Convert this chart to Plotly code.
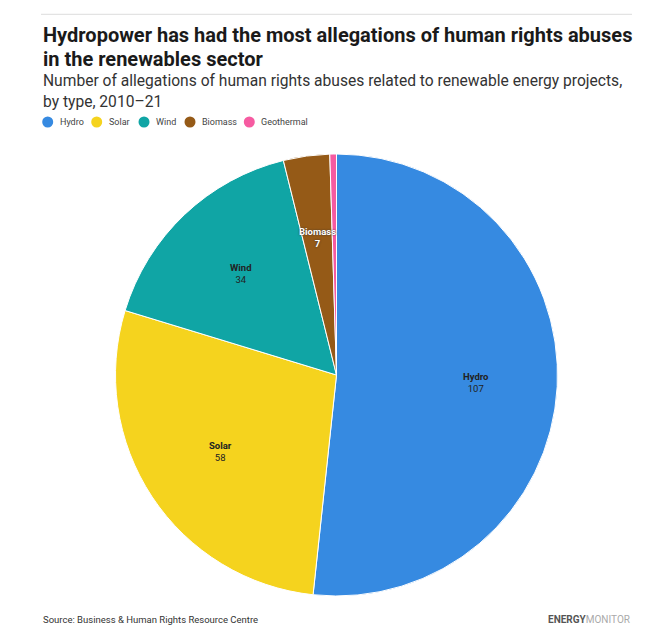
import math
import plotly.graph_objects as go

# ---- data ----
categories = ["Hydro", "Solar", "Wind", "Biomass", "Geothermal"]
values = [107, 58, 34, 7, 1]
colors = ["#368ae1", "#f5d31e", "#10a5a5", "#955a17", "#f65ba1"]
label_colors = ["#222222", "#222222", "#222222", "#ffffff", None]

W, H = 655, 643
OFF = 8  # page body margin
# pie geometry in page pixels
CX, CY, R = 336.5, 375, 221
FONT = "Roboto, Arial, sans-serif"


def px(x):
    return (x - OFF) / W


def py(y):
    return 1 - (y - OFF) / H


fig = go.Figure()
fig.add_trace(go.Pie(
    labels=categories,
    values=values,
    sort=False,
    direction="clockwise",
    rotation=0,
    marker=dict(colors=colors, line=dict(color="#ffffff", width=1)),
    textinfo="none",
    hoverinfo="label+value",
    showlegend=False,
    domain=dict(x=[px(CX - R), px(CX + R)], y=[py(CY + R), py(CY - R)]),
))

annotations = []
total = sum(values)
cum = 0
for cat, v, lc in zip(categories, values, label_colors):
    mid = (cum + v / 2) / total
    cum += v
    if lc is None:
        continue
    th = 2 * math.pi * mid
    x = CX + 0.63 * R * math.sin(th)
    y = CY - 0.63 * R * math.cos(th)
    font = dict(family=FONT, size=9.5, color=lc)
    if lc == "#ffffff":
        font["shadow"] = "0px 0px 2px #333"
        text = f"<b>{cat}</b><br><b>{v}</b>"
    else:
        text = f"<b>{cat}</b><br>{v}"
    annotations.append(dict(x=px(x), y=py(y), xref="paper", yref="paper",
                            text=text, showarrow=False, font=font,
                            xanchor="center", yanchor="middle", align="center"))

# titles (one annotation per line)
title_lines = ["Hydropower has had the most allegations of human rights abuses",
               "in the renewables sector"]
for t, yc in zip(title_lines, [35, 59]):
    annotations.append(dict(x=px(41), y=py(yc), xref="paper", yref="paper",
        text=f"<b>{t}</b>", showarrow=False, xanchor="left", yanchor="middle",
        font=dict(family=FONT, size=20, color="#1a1a1a")))
sub_lines = ["Number of allegations of human rights abuses related to renewable energy projects,",
             "by type, 2010–21"]
for t, yc in zip(sub_lines, [81, 101.5]):
    annotations.append(dict(x=px(41), y=py(yc), xref="paper", yref="paper",
        text=t, showarrow=False, xanchor="left", yanchor="middle",
        font=dict(family=FONT, size=15.6, color="#333333")))

# legend
leg_x = [47.7, 96.7, 144, 190, 249.3]
shapes = [dict(type="line", xref="paper", yref="paper", x0=px(41), x1=px(632),
               y0=py(14.3), y1=py(14.3), line=dict(color="#dddddd", width=1))]
for cat, col, lx in zip(categories, colors, leg_x):
    shapes.append(dict(type="circle", xref="paper", yref="paper",
                       xsizemode="pixel", ysizemode="pixel",
                       xanchor=px(lx), yanchor=py(122),
                       x0=-5.5, x1=5.5, y0=-5.5, y1=5.5,
                       fillcolor=col, line=dict(width=0)))
    annotations.append(dict(x=px(lx + 10), y=py(122), xref="paper", yref="paper",
                            text=cat, showarrow=False, xanchor="left", yanchor="middle",
                            font=dict(family=FONT, size=9, color="#444444")))

# footer
annotations.append(dict(x=px(41), y=py(619), xref="paper", yref="paper",
    text="Source: Business & Human Rights Resource Centre", showarrow=False,
    xanchor="left", yanchor="middle",
    font=dict(family=FONT, size=9.5, color="#333333")))
annotations.append(dict(x=px(632), y=py(619), xref="paper", yref="paper",
    text="<b>ENERGY</b><span style='color:#aaaaaa'>MONITOR</span>", showarrow=False,
    xanchor="right", yanchor="middle",
    font=dict(family=FONT, size=10, color="#555555")))

fig.update_layout(
    width=W, height=H,
    margin=dict(l=0, r=0, t=0, b=0),
    paper_bgcolor="#ffffff", plot_bgcolor="#ffffff",
    annotations=annotations, shapes=shapes,
)

fig.write_html("out.html")
